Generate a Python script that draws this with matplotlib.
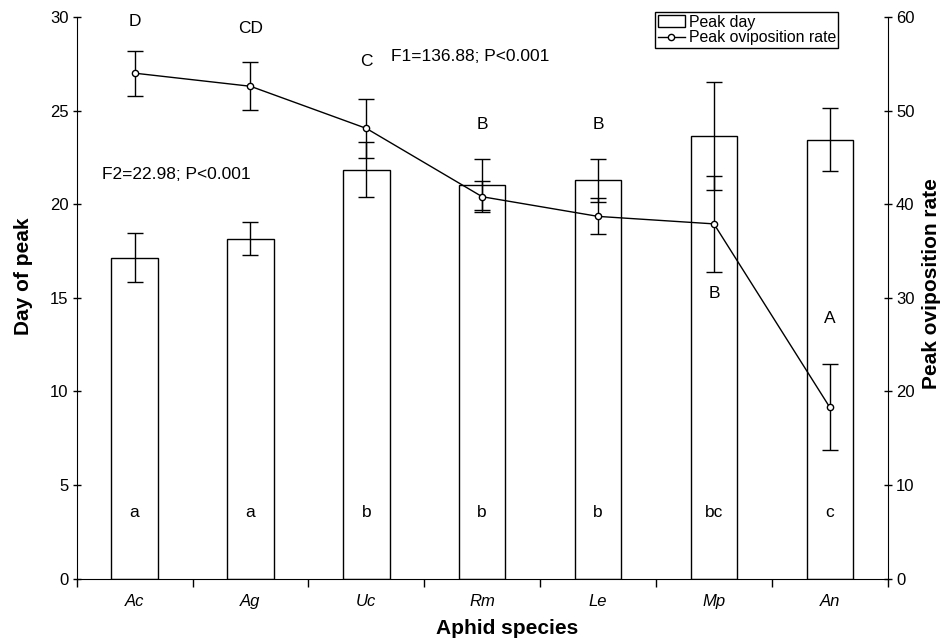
"""Peak day and peak oviposition rate for seven aphid species"""
import matplotlib.pyplot as plt
import matplotlib.lines as mlines
import matplotlib.patches as mpatches

import numpy as np

plt.rcParams['font.family'] = ['Liberation Sans', 'DejaVu Sans']

species = ["Ac", "Ag", "Uc", "Rm", "Le", "Mp", "An"]

# bars (left axis)
peak_day = [17.15, 18.15, 21.85, 21.05, 21.28, 23.65, 23.45]
peak_day_err = [1.3, 0.88, 1.48, 1.34, 1.15, 2.87, 1.7]
lower_letters = ["a", "a", "b", "b", "b", "bc", "c"]

# line (right axis)
ovi_rate = [54.0, 52.6, 48.1, 40.8, 38.7, 37.9, 18.3]
ovi_rate_err = [2.4, 2.55, 3.15, 1.67, 1.93, 5.1, 4.6]
upper_letters = ["D", "CD", "C", "B", "B", "B", "A"]

f1_text = "F1=136.88; P<0.001"
f2_text = "F2=22.98; P<0.001"

# layout only
UPPER_LETTER_Y = [29.76, 29.4, 27.6, 24.25, 24.25, 15.24, 13.9]
LOWER_LETTER_Y = 3.55
BAR_WIDTH = 0.4
CAPSIZE = 5.5
TICK_FS = 12
TEXT_FS = 12.5
LABEL_FS = 15


def legend_handles():
    """Legend entries for bar and line"""
    bar_handle = mpatches.Patch(facecolor='white', edgecolor='black',
                                linewidth=1, label='Peak day')
    line_handle = mlines.Line2D([], [], color='black', lw=1, marker='o',
                                markersize=4.5, markerfacecolor='white',
                                markeredgecolor='black',
                                label='Peak oviposition rate')
    return [bar_handle, line_handle]


def plot_peak_day(ax, x):
    """Bars of peak day with error bars and letter groups"""
    ax.bar(x, peak_day, width=BAR_WIDTH, color='white', edgecolor='black',
           linewidth=1, yerr=peak_day_err,
           error_kw=dict(ecolor='black', elinewidth=1, capsize=CAPSIZE,
                         capthick=1))
    for xi, lab in zip(x, lower_letters):
        ax.text(xi, LOWER_LETTER_Y, lab, ha='center', va='center',
                fontsize=TEXT_FS)
    for xi, yi, lab in zip(x, UPPER_LETTER_Y, upper_letters):
        ax.text(xi, yi, lab, ha='center', va='center', fontsize=TEXT_FS)
    ax.text(2.21, 27.9, f1_text, ha='left', va='center', fontsize=TEXT_FS)
    ax.text(-0.284, 21.6, f2_text, ha='left', va='center', fontsize=TEXT_FS)

    ax.set_xlim(-0.5, len(species) - 0.5)
    ax.set_ylim(0, 30)
    ax.set_yticks(np.arange(0, 31, 5))
    ax.set_xticks(x)
    ax.set_xticklabels(species, fontstyle='italic', fontsize=TICK_FS)
    ax.set_xticks(np.arange(-0.5, len(species), 1.0), minor=True)
    ax.tick_params(axis='x', which='major', length=0, pad=11)
    ax.tick_params(axis='x', which='minor', direction='out', length=6,
                   width=1)
    ax.tick_params(axis='y', direction='inout', length=6, width=1,
                   labelsize=TICK_FS, pad=3)
    ax.set_xlabel('Aphid species', fontsize=LABEL_FS, fontweight='bold')
    ax.xaxis.set_label_coords(0.531, -0.072)
    ax.set_ylabel('Day of peak', fontsize=LABEL_FS, fontweight='bold')
    ax.yaxis.set_label_coords(-0.054, 0.539)
    ax.spines['top'].set_visible(False)
    ax.spines['right'].set_visible(False)
    return ax


def plot_oviposition(ax, x):
    """Line of peak oviposition rate on the second axis"""
    ax.errorbar(x, ovi_rate, yerr=ovi_rate_err, color='black', lw=1,
                marker='o', markersize=4.5, markerfacecolor='white',
                markeredgecolor='black', elinewidth=1, capsize=CAPSIZE,
                capthick=1, zorder=5)
    ax.set_ylim(0, 60)
    ax.set_yticks(np.arange(0, 61, 10))
    ax.tick_params(axis='y', direction='inout', length=6, width=1,
                   labelsize=TICK_FS, pad=3)
    ax.set_ylabel('Peak oviposition rate', fontsize=LABEL_FS,
                  fontweight='bold')
    ax.yaxis.set_label_coords(1.042, 0.525)
    for side in ['top', 'left', 'bottom']:
        ax.spines[side].set_visible(False)
    return ax


def plot_figure():
    fig = plt.figure(figsize=(9.43, 6.39), dpi=100)
    ax = fig.add_axes([0.0813, 0.0944, 0.8601, 0.879])
    x = np.arange(len(species))

    ax = plot_peak_day(ax, x)
    ax2 = ax.twinx()
    ax2 = plot_oviposition(ax2, x)

    leg = ax2.legend(handles=legend_handles(), loc='upper right',
                     bbox_to_anchor=(0.889, 0.981),
                     bbox_transform=fig.transFigure,
                     fontsize=11.4, frameon=True, fancybox=False,
                     framealpha=1, edgecolor='black', borderpad=0.15,
                     labelspacing=0.05, handlelength=1.7,
                     handletextpad=0.25, borderaxespad=0)
    leg.get_frame().set_linewidth(1)

    fig.savefig("out.png", dpi=100)


if __name__ == "__main__":
    plot_figure()
